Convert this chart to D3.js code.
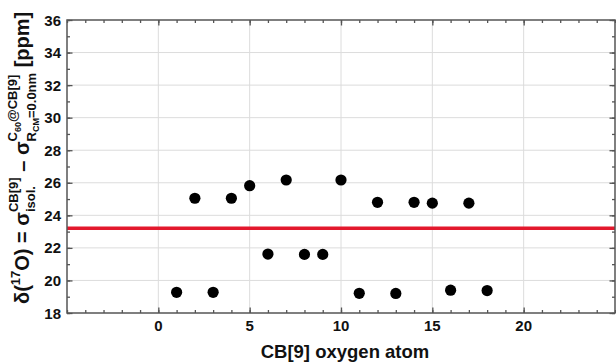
<!DOCTYPE html>
<html><head><meta charset="utf-8">
<script src="https://cdn.jsdelivr.net/npm/d3@7"></script>
<style>body{margin:0;background:#fff}svg{display:block}text{white-space:pre}</style>
</head><body>
<svg id="c" width="616" height="364"></svg>
<script>
const atoms = [1,2,3,4,5,6,7,8,9,10,11,12,13,14,15,16,17,18];
const delta = [19.27,25.05,19.27,25.05,25.82,21.62,26.17,21.6,21.6,26.17,19.21,24.8,19.2,24.8,24.75,19.4,24.75,19.38];
const meanLine = 23.2;
const xTicks = [0,5,10,15,20];
const yTicks = [18,20,22,24,26,28,30,32,34,36];

const svg = d3.select("#c");
const L=67, R=615, T=20, B=313;
const x = d3.scaleLinear().domain([-5,25]).range([L,R]);
const y = d3.scaleLinear().domain([18,36]).range([B,T]);
const font = "'Liberation Sans', Arial, sans-serif";

// grid
svg.append("g").selectAll("line").data(xTicks).join("line")
  .attr("x1",d=>x(d)).attr("x2",d=>x(d)).attr("y1",T).attr("y2",B)
  .attr("stroke","#dcdcdc").attr("stroke-width",1);
svg.append("g").selectAll("line").data(yTicks.filter(d=>d>18&&d<36)).join("line")
  .attr("y1",d=>y(d)).attr("y2",d=>y(d)).attr("x1",L).attr("x2",R)
  .attr("stroke","#dcdcdc").attr("stroke-width",1);

// red line
svg.append("line").attr("x1",L).attr("x2",R).attr("y1",y(meanLine)).attr("y2",y(meanLine))
  .attr("stroke","#e3182d").attr("stroke-width",3.5);

// axes with inward ticks
const ax = "#555";
function styleAxis(g){ g.select(".domain").remove(); g.selectAll("line").attr("stroke",ax).attr("stroke-width",1.3); g.selectAll("text").remove(); }
const xMinor = d3.range(-5,26,1), yMinor = d3.range(18,37,1);
svg.append("g").attr("transform",`translate(0,${B})`).call(d3.axisTop(x).tickValues(xMinor).tickSize(3)).call(styleAxis);
svg.append("g").attr("transform",`translate(0,${B})`).call(d3.axisTop(x).tickValues(xTicks).tickSize(5.5)).call(styleAxis);
svg.append("g").attr("transform",`translate(0,${T})`).call(d3.axisBottom(x).tickValues(xMinor).tickSize(3)).call(styleAxis);
svg.append("g").attr("transform",`translate(0,${T})`).call(d3.axisBottom(x).tickValues(xTicks).tickSize(5.5)).call(styleAxis);
svg.append("g").attr("transform",`translate(${L},0)`).call(d3.axisRight(y).tickValues(yMinor).tickSize(3)).call(styleAxis);
svg.append("g").attr("transform",`translate(${L},0)`).call(d3.axisRight(y).tickValues(yTicks).tickSize(5.5)).call(styleAxis);
svg.append("g").attr("transform",`translate(${R},0)`).call(d3.axisLeft(y).tickValues(yMinor).tickSize(3)).call(styleAxis);
svg.append("g").attr("transform",`translate(${R},0)`).call(d3.axisLeft(y).tickValues(yTicks).tickSize(5.5)).call(styleAxis);

svg.append("rect").attr("x",L).attr("y",T).attr("width",R-L).attr("height",B-T)
  .attr("fill","none").attr("stroke",ax).attr("stroke-width",1.5);

// tick labels
svg.append("g").selectAll("text").data(xTicks).join("text")
  .attr("x",d=>x(d)).attr("y",B+18).attr("text-anchor","middle")
  .attr("font-family",font).attr("font-weight","bold").attr("font-size",15).attr("fill","#111")
  .text(d=>d);
svg.append("g").selectAll("text").data(yTicks).join("text")
  .attr("x",L-6).attr("y",d=>y(d)+5.5).attr("text-anchor","end")
  .attr("font-family",font).attr("font-weight","bold").attr("font-size",15).attr("fill","#111")
  .text(d=>d);

// points
svg.append("g").selectAll("circle").data(atoms).join("circle")
  .attr("cx",d=>x(d)).attr("cy",(d,i)=>y(delta[i])).attr("r",5.6).attr("fill","#000");

// x title
svg.append("text").attr("x",345).attr("y",358).attr("text-anchor","middle")
  .attr("font-family",font).attr("font-weight","bold").attr("font-size",18.5).attr("fill","#111")
  .text("CB[9] oxygen atom");

// y title composed
const g = svg.append("g").attr("transform","translate(29,304) rotate(-90)");
let cx = 0;
function piece(t, size, dy){
  const el = g.append("text").attr("x",cx).attr("y",dy).attr("font-family",font).attr("font-weight","bold")
    .attr("font-size",size).attr("fill","#111").text(t);
  return el.node().getComputedTextLength();
}
function add(t,size,dy){ cx += piece(t,size,dy); }
function stack(supT, subT, size, supDy, subDy){
  const a = piece(supT,size,supDy), b = piece(subT,size,subDy);
  cx += Math.max(a,b);
}
const M=20, S=13, SS=9;
add("δ(",M,0);
add("17",S,-9);
add("O) = σ",M,0);
stack("CB[9]","isol.",S,-11,6);
add(" – σ",M,0);
const start = cx;
let supX = start;
{ cx = start; add("C",S,-12); add("60",SS,-8); add("@CB[9]",S,-12); supX = cx; }
cx = start; add("R",S,7); add("CM",SS,10); add("=0.0nm",S,7);
cx = Math.max(cx, supX);
add(" [ppm]",M,0);
</script>
</body></html>
